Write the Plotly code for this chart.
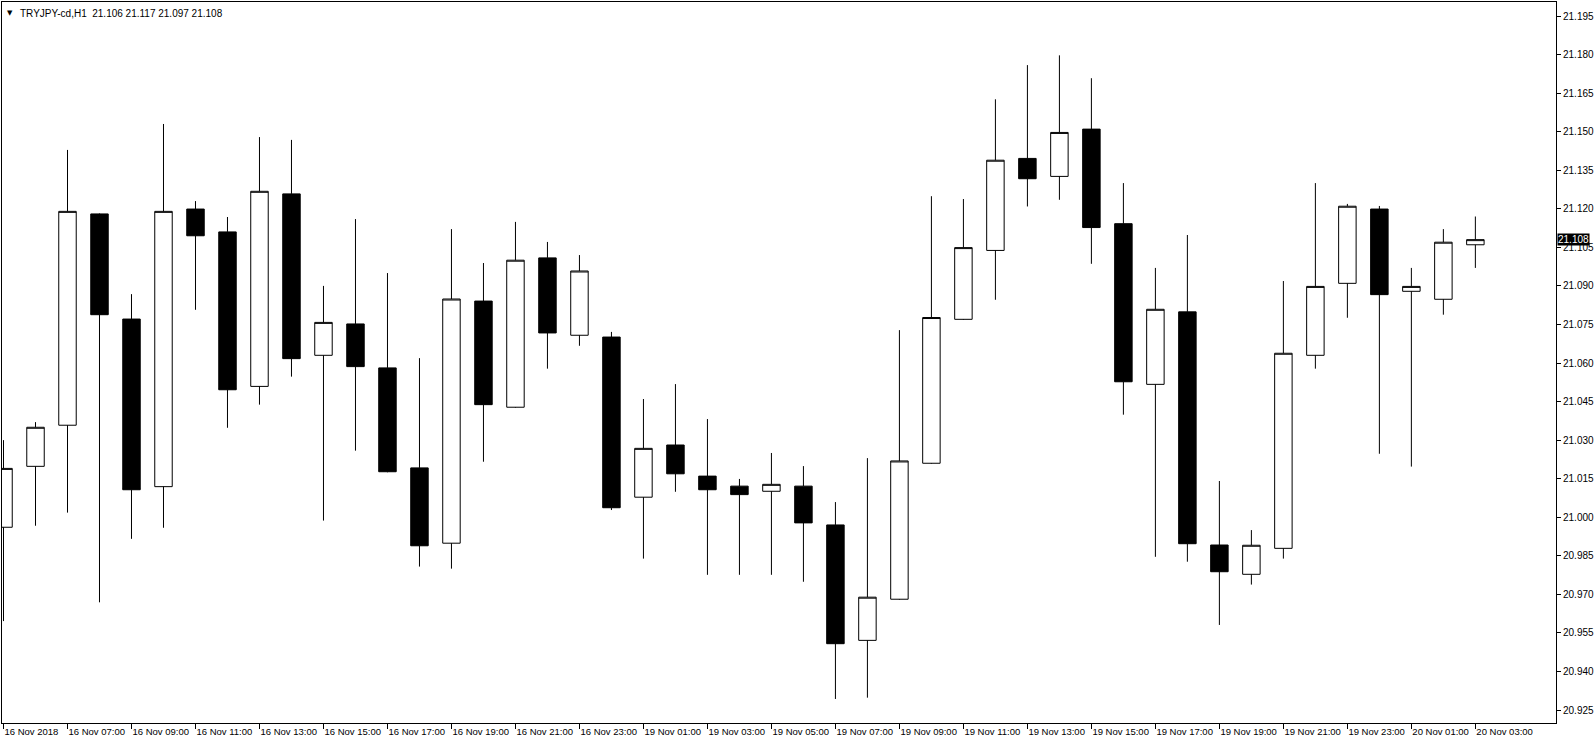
import plotly.graph_objects as go

symbol = "TRYJPY-cd,H1"

# hourly bars, 16 Nov 2018 05:00 .. 20 Nov 2018 03:00 (weekend skipped)
opens = [20.9961, 21.0198, 21.0358, 21.1180, 21.0771, 21.0119, 21.1199, 21.1110, 21.0509, 21.1258,
         21.0630, 21.0752, 21.0581, 21.0192, 20.9899, 21.0841, 21.0428, 21.1009, 21.0708, 21.0701,
         21.0078, 21.0281, 21.0160, 21.0121, 21.0101, 21.0121, 20.9970, 20.9521, 20.9681, 21.0210,
         21.0770, 21.1038, 21.1396, 21.1326, 21.1510, 21.1142, 21.0517, 21.0799, 20.9892, 20.9778,
         20.9879, 21.0630, 21.0910, 21.1199, 21.0879, 21.0848, 21.106]
highs = [21.0300, 21.0370, 21.1429, 21.1182, 21.0868, 21.1530, 21.1230, 21.1168, 21.1479, 21.1468,
         21.0900, 21.1160, 21.0950, 21.0619, 21.1121, 21.0989, 21.1149, 21.1071, 21.1020, 21.0721,
         21.0460, 21.0518, 21.0382, 21.0149, 21.0250, 21.0199, 21.0059, 21.0230, 21.0728, 21.1249,
         21.1238, 21.1626, 21.1759, 21.1797, 21.1708, 21.1300, 21.0970, 21.1098, 21.0141, 20.9950,
         21.0919, 21.1300, 21.1219, 21.1211, 21.0970, 21.1121, 21.117]
lows = [20.9596, 20.9967, 21.0018, 20.9669, 20.9916, 20.9959, 21.0807, 21.0348, 21.0438, 21.0547,
        20.9987, 21.0259, 21.0175, 20.9808, 20.9800, 21.0216, 21.0426, 21.0578, 21.0667, 21.0028,
        20.9839, 21.0099, 20.9776, 20.9776, 20.9776, 20.9749, 20.9293, 20.9298, 20.9679, 21.0208,
        21.0768, 21.0846, 21.1209, 21.1235, 21.0986, 21.0399, 20.9846, 20.9827, 20.9581, 20.9738,
        20.9839, 21.0578, 21.0776, 21.0247, 21.0197, 21.0788, 21.097]
closes = [21.0190, 21.0350, 21.1190, 21.0788, 21.0107, 21.1190, 21.1095, 21.0496, 21.1268, 21.0617,
          21.0758, 21.0586, 21.0177, 20.9889, 21.0849, 21.0438, 21.1000, 21.0717, 21.0958, 21.0037,
          21.0268, 21.0169, 21.0107, 21.0088, 21.0128, 20.9978, 20.9508, 20.9689, 21.0219, 21.0777,
          21.1049, 21.1389, 21.1317, 21.1497, 21.1127, 21.0527, 21.0809, 20.9897, 20.9788, 20.9891,
          21.0638, 21.0898, 21.1210, 21.0866, 21.0898, 21.1070, 21.108]

time_labels = ["16 Nov 2018", "16 Nov 07:00", "16 Nov 09:00", "16 Nov 11:00", "16 Nov 13:00",
               "16 Nov 15:00", "16 Nov 17:00", "16 Nov 19:00", "16 Nov 21:00", "16 Nov 23:00",
               "19 Nov 01:00", "19 Nov 03:00", "19 Nov 05:00", "19 Nov 07:00", "19 Nov 09:00",
               "19 Nov 11:00", "19 Nov 13:00", "19 Nov 15:00", "19 Nov 17:00", "19 Nov 19:00",
               "19 Nov 21:00", "19 Nov 23:00", "20 Nov 01:00", "20 Nov 03:00"]
price_ticks = [20.925, 20.940, 20.955, 20.970, 20.985, 21.000, 21.015, 21.030, 21.045, 21.060,
               21.075, 21.090, 21.105, 21.120, 21.135, 21.150, 21.165, 21.180, 21.195]

bars = list(range(len(opens)))
FONT = "Liberation Sans, Arial, sans-serif"

fig = go.Figure()
fig.add_trace(go.Candlestick(
    x=bars, open=opens, high=highs, low=lows, close=closes,
    increasing=dict(fillcolor="white", line=dict(color="black", width=1)),
    decreasing=dict(fillcolor="black", line=dict(color="black", width=1)),
    whiskerwidth=0,
    showlegend=False,
))

last = closes[-1]
fig.add_annotation(xref="paper", yref="y", x=1, y=last, xanchor="left", yanchor="middle",
                   xshift=1, text=f"{last:.3f}", showarrow=False, bgcolor="black",
                   font=dict(color="white", size=10, family=FONT), borderpad=0)

fig.add_annotation(xref="paper", yref="paper", x=0, y=1, xanchor="left", yanchor="top",
                   xshift=3, yshift=-5, text="▼", showarrow=False,
                   font=dict(color="black", size=7, family="DejaVu Sans"))
fig.add_annotation(xref="paper", yref="paper", x=0, y=1, xanchor="left", yanchor="top",
                   xshift=16, yshift=-4,
                   text=f"{symbol}  {opens[-1]:.3f} {highs[-1]:.3f} {lows[-1]:.3f} {closes[-1]:.3f}",
                   showarrow=False, font=dict(color="black", size=10, family=FONT))

fig.update_xaxes(
    range=[-0.047, 48.52], rangeslider_visible=False,
    tickmode="array", tickvals=bars[::2], ticktext=time_labels, tickangle=0,
    ticks="outside", ticklen=5, tickcolor="black", ticklabelposition="outside right",
    showgrid=False, zeroline=False, showline=True, linecolor="black", linewidth=1, mirror=True,
    tickfont=dict(size=9.5, color="black", family=FONT),
)
fig.update_yaxes(
    range=[20.91995, 21.20045], side="right",
    tickmode="array", tickvals=price_ticks, tickformat=".3f",
    ticks="outside", ticklen=4, tickcolor="black",
    showgrid=False, zeroline=False, showline=True, linecolor="black", linewidth=1, mirror=True,
    tickfont=dict(size=10, color="black", family=FONT),
)
fig.update_layout(
    width=1596, height=744,
    margin=dict(l=2, r=40, t=2, b=21),
    paper_bgcolor="white", plot_bgcolor="white",
    boxgap=0.22, showlegend=False,
)

fig.write_html("out.html", config={"displayModeBar": False},
               post_script="document.body.style.margin='0';")
